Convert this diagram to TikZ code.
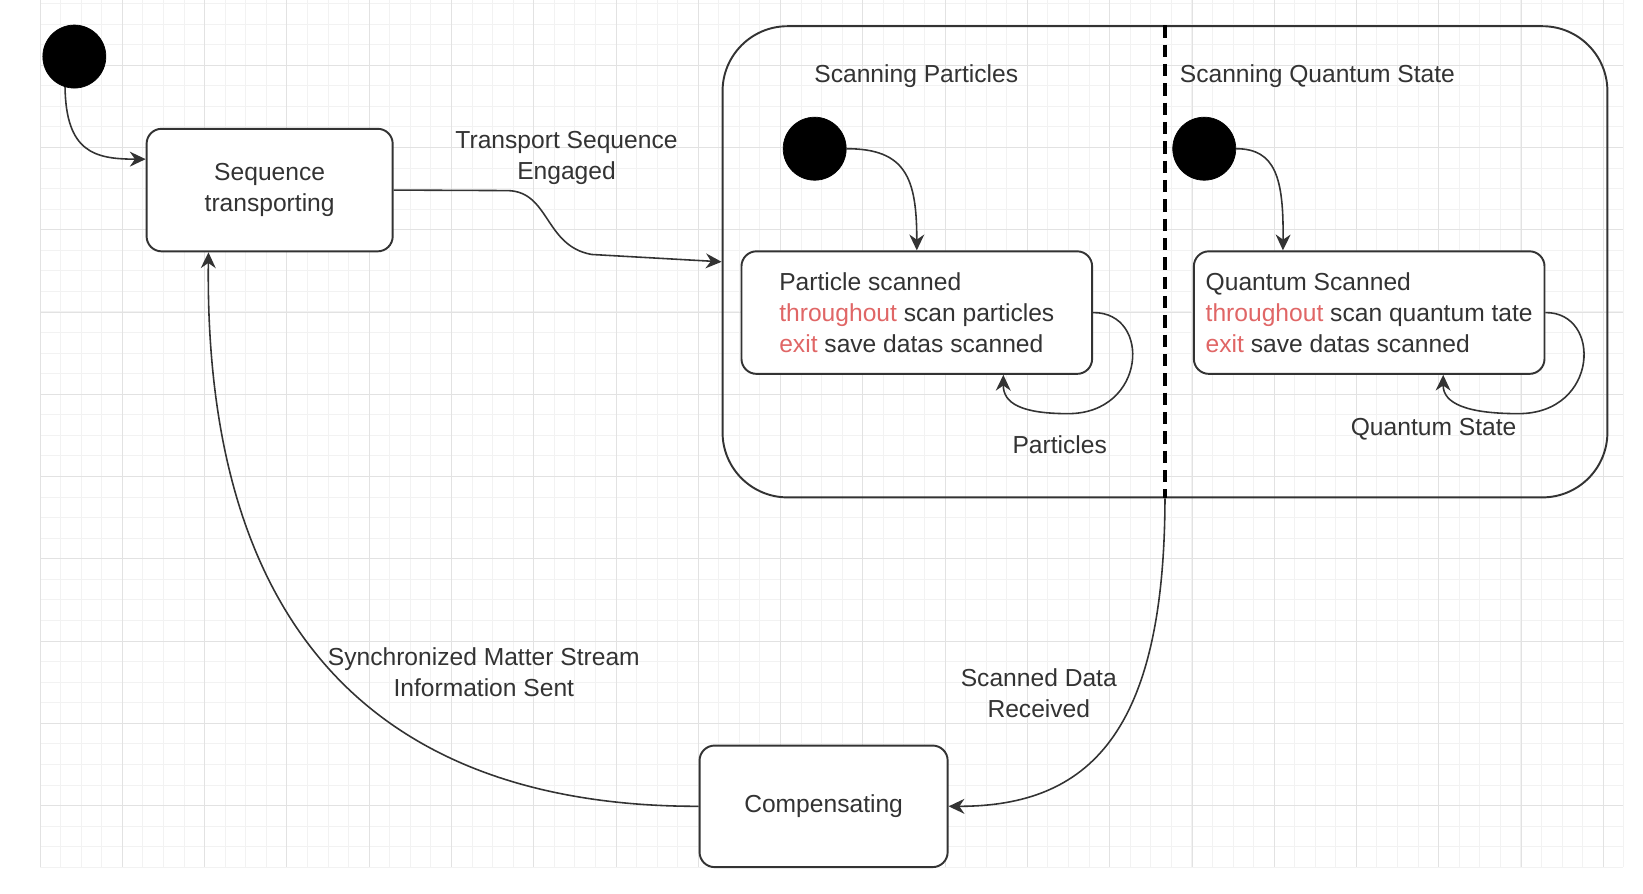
\documentclass[tikz,border=0pt]{standalone}
\usepackage{fontspec}
\setmainfont{Liberation Sans}
\usetikzlibrary{arrows.meta}
\definecolor{ink}{HTML}{333333}
\definecolor{keyword}{HTML}{E06666}
\definecolor{gridmajor}{HTML}{E2E2E2}
\definecolor{gridminor}{HTML}{F2F2F2}
\begin{document}
\begin{tikzpicture}[x=0.02094cm,y=-0.02094cm,
    font=\fontsize{14}{17.5}\selectfont,text=ink,
    initial/.style={draw=black,fill=black,circle,minimum size=1.26cm,inner sep=0pt},
    state/.style={draw=ink,fill=white,rounded corners=0.3cm,line width=1.1pt,align=center,minimum height=2.45cm,inner sep=0pt},
    trans/.style={draw=ink,line width=0.9pt,-{Stealth[length=9pt,width=8.5pt]}}]
                \useasboundingbox (0,0) rectangle (1569,853);
                \foreach \i in {0,...,77} \draw[gridminor] ({38.2+19.64*\i},0) -- ({38.2+19.64*\i},828);
                \foreach \j in {-3,...,39} \draw[gridminor] (38.2,{62.1+19.64*\j}) -- (1550,{62.1+19.64*\j});
                \foreach \i in {0,...,19} \draw[gridmajor] ({38.2+78.57*\i},0) -- ({38.2+78.57*\i},828);
                \foreach \j in {0,...,9} \draw[gridmajor] (38.2,{62.1+78.57*\j}) -- (1550,{62.1+78.57*\j});

                \node[initial](1) at (71,54){};
                \node[state,minimum width=4.92cm](2) at (257.5,181.5){Sequence \\ transporting};
                \node[draw=ink,line width=1.1pt,rounded corners=1.3cm,minimum width=17.69cm,minimum height=9.42cm](3) at (1112.5,250){};
                \draw[black,line width=2pt,dash pattern=on 7pt off 4pt] (3.north) -- (3.south);
                \node(t1) at (875,73){Scanning Particles};
                \node(t2) at (1258,73){Scanning Quantum State};
                \node[initial](4) at (778,142){};
                \node[state,minimum width=7.01cm,align=left](5) at (875.5,298.5){Particle scanned \\ \textcolor{keyword}{throughout} scan particles \\ \textcolor{keyword}{exit} save datas scanned};
                \node[initial](6) at (1150,142){};
                \node[state,minimum width=7.01cm,align=left](7) at (1307.5,298.5){Quantum Scanned \\ \textcolor{keyword}{throughout} scan quantum tate \\ \textcolor{keyword}{exit} save datas scanned};
                \node[state,minimum width=4.96cm,minimum height=2.43cm](8) at (786.5,770){Compensating};

                \node[align=center](l1) at (541,151){Transport Sequence \\ Engaged};
                \node(l2) at (1012,425){Particles};
                \node(l3) at (1369,410){Quantum State};
                \node[align=center](l4) at (462,642){Synchronized Matter Stream \\ Information Sent};
                \node[align=center](l5) at (992,662){Scanned Data \\ Received};

                \draw[trans] (1.-107) .. controls (63,145) and (90,152) .. (2.166);
                \draw[trans] (2.east) -- (485,182) .. controls (525,183) and (520,235) .. (565,243) -- (3.west);
                \draw[trans] (4.east) .. controls (865,142) and (875.5,170) .. (5.north);
                \draw[trans] (6.east) .. controls (1218,142) and (1226,170) .. ([xshift=1.8cm]7.north west);
                \draw[trans] (5.east) .. controls (1100,298) and (1095,395) .. (1020,395) .. controls (975,395) and (958,385) .. ([xshift=1.73cm]5.south);
                \draw[trans] (7.east) .. controls (1530,298) and (1527,395) .. (1450,395) .. controls (1400,395) and (1378,385) .. ([xshift=1.48cm]7.south);
                \draw[trans] (3.south) .. controls (1112,700) and (1040,770) .. (8.east);
                \draw[trans] (8.west) .. controls (360,770) and (195,600) .. ([xshift=1.256cm]2.south west);
            \end{tikzpicture}
\end{document}
